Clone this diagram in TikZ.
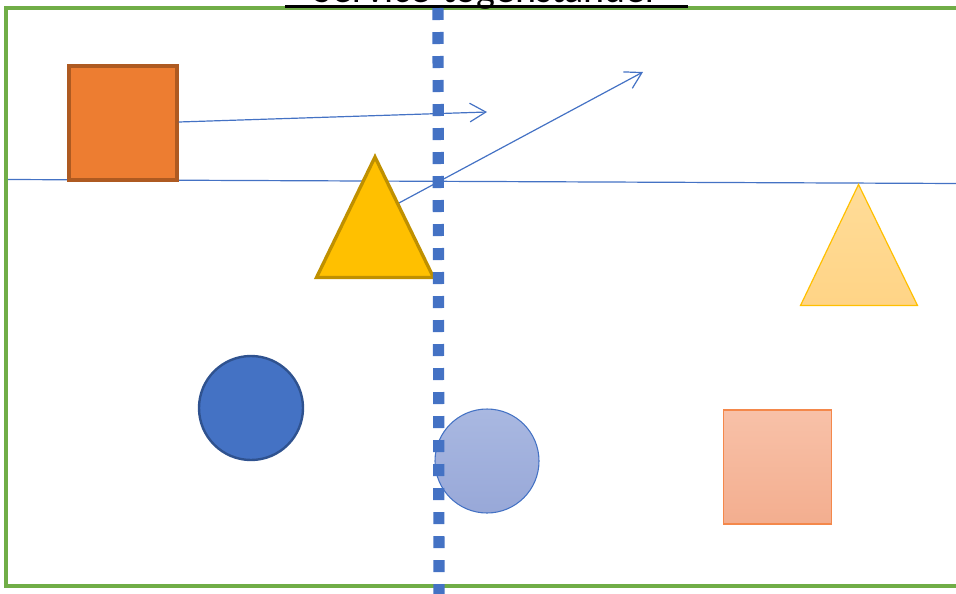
\documentclass[tikz,border=0pt]{standalone}
\usepackage{fontspec}
\setmainfont{Carlito}
\usetikzlibrary{arrows.meta}
\definecolor{msgreen}{HTML}{70AD47}
\definecolor{msblue}{HTML}{4472C4}
\definecolor{msblued}{HTML}{2F528F}
\definecolor{msorange}{HTML}{ED7D31}
\definecolor{msoranged}{HTML}{AE5A21}
\definecolor{msgold}{HTML}{FFC000}
\definecolor{msgoldd}{HTML}{BF9000}
\definecolor{ltritop}{HTML}{FFDC98}
\definecolor{ltribot}{HTML}{FFD486}
\definecolor{lcirctop}{HTML}{A9B8E1}
\definecolor{lcircbot}{HTML}{98A8D8}
\definecolor{lsqtop}{HTML}{F8C1A8}
\definecolor{lsqbot}{HTML}{F3AE8F}
\definecolor{lsqedge}{HTML}{F4884B}
\tikzset{
  conn/.style={draw=msblue, line width=0.9pt, -{Straight Barb[length=12pt,width=14pt,line width=0.9pt]}},
  plainline/.style={draw=msblue, line width=0.9pt},
  sq/.style={rectangle, inner sep=0pt, minimum width=81pt, minimum height=85.5pt},
  circ/.style={circle, inner sep=0pt, minimum size=78pt},
}
\begin{document}
\begin{tikzpicture}[x=0.75pt,y=-0.75pt]
\useasboundingbox (0,0) rectangle (956,593);
% frame
\draw[msgreen, line width=2.5pt] (970,8) -- (6,8) -- (6,586) -- (970,586);
% title (mostly outside the page)
\node[anchor=base, inner sep=0pt, font=\fontsize{30}{36}\selectfont] (title) at (486.5,2) {Service-togenstander};
\draw[line width=2.6pt] (285,6.5) -- (688,6.5);
% horizontal line
\coordinate (hl) at (8,179.5);
\coordinate (hr) at (960,183.5);
\draw[plainline] (hl) -- (hr);
% orange square
\node[sq, fill=msorange, draw=msoranged, line width=2.5pt] (osq) at (123,123) {};
\coordinate (a1end) at (487,112);
\draw[conn] (osq.east |- 0,122) -- (a1end);
% yellow triangle
\coordinate (ytop) at (375,157);
\coordinate (yl) at (316.5,277.5);
\coordinate (yr) at (433.5,277.5);
\coordinate (ystart) at (398,203.5);
\coordinate (a2end) at (643,72);
\draw[conn] (ystart) -- (a2end);
\filldraw[fill=msgold, draw=msgoldd, line width=2.5pt, line join=miter] (ytop) -- (yr) -- (yl) -- cycle;
% light triangle
\coordinate (ltop) at (858.5,184.5);
\coordinate (ll) at (800.5,305.5);
\coordinate (lr) at (917.5,305.5);
\shade[top color=ltritop, bottom color=ltribot] (ltop) -- (lr) -- (ll) -- cycle;
\draw[msgold, line width=0.9pt, line join=miter] (ltop) -- (lr) -- (ll) -- cycle;
% blue circle
\node[circ, fill=msblue, draw=msblued, line width=1.8pt] (bc) at (251,408) {};
% light blue circle
\node[circ, top color=lcirctop, bottom color=lcircbot, draw=msblue, line width=0.8pt] (lc) at (487,461) {};
% light orange square
\node[sq, top color=lsqtop, bottom color=lsqbot, draw=lsqedge, line width=1.2pt] (lsq) at (777.5,467) {};
% dotted divider
\coordinate (dtop) at (438,8);
\coordinate (dbot) at (439,600);
\draw[msblue, line width=8.4pt, dash pattern=on 9pt off 9pt, line cap=butt] (dtop) -- (dbot);
\end{tikzpicture}
\end{document}
